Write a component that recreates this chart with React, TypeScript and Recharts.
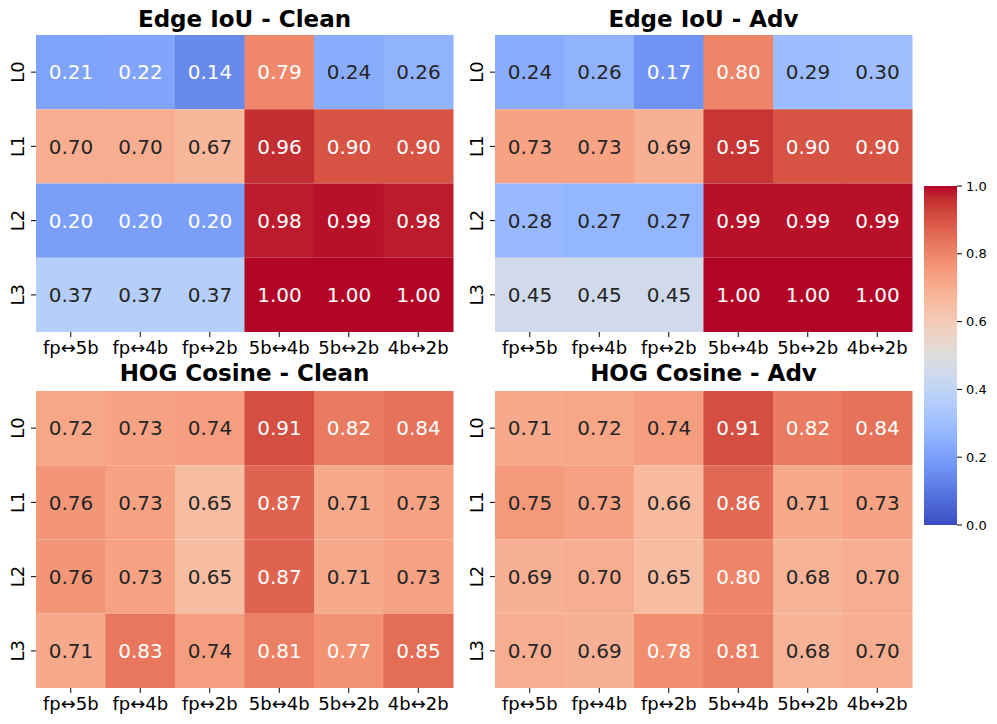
import React from "react";
import { BarChart, Bar, XAxis, YAxis, Cell, LabelList } from "recharts";

const COLS = ["fp↔5b", "fp↔4b", "fp↔2b", "5b↔4b", "5b↔2b", "4b↔2b"];
const ROWS = ["L0", "L1", "L2", "L3"];

const edgeClean = [
  [0.21, 0.22, 0.14, 0.79, 0.24, 0.26],
  [0.7, 0.7, 0.67, 0.96, 0.9, 0.9],
  [0.2, 0.2, 0.2, 0.98, 0.99, 0.98],
  [0.37, 0.37, 0.37, 1.0, 1.0, 1.0],
];
const edgeAdv = [
  [0.24, 0.26, 0.17, 0.8, 0.29, 0.3],
  [0.73, 0.73, 0.69, 0.95, 0.9, 0.9],
  [0.28, 0.27, 0.27, 0.99, 0.99, 0.99],
  [0.45, 0.45, 0.45, 1.0, 1.0, 1.0],
];
const hogClean = [
  [0.72, 0.73, 0.74, 0.91, 0.82, 0.84],
  [0.76, 0.73, 0.65, 0.87, 0.71, 0.73],
  [0.76, 0.73, 0.65, 0.87, 0.71, 0.73],
  [0.71, 0.83, 0.74, 0.81, 0.77, 0.85],
];
const hogAdv = [
  [0.71, 0.72, 0.74, 0.91, 0.82, 0.84],
  [0.75, 0.73, 0.66, 0.86, 0.71, 0.73],
  [0.69, 0.7, 0.65, 0.8, 0.68, 0.7],
  [0.7, 0.69, 0.78, 0.81, 0.68, 0.7],
];
const CBAR_TICKS = [0, 0.2, 0.4, 0.6, 0.8, 1.0];

// Moreland's coolwarm, 33 samples (same as matplotlib's "coolwarm")
const COOLWARM = [
  [59, 76, 192], [68, 90, 204], [77, 104, 215], [87, 117, 225], [98, 130, 234],
  [108, 142, 241], [119, 154, 247], [130, 165, 251], [141, 176, 254], [152, 185, 255],
  [163, 194, 255], [174, 201, 253], [184, 208, 249], [194, 213, 244], [204, 217, 238],
  [213, 219, 230], [221, 221, 221], [229, 216, 209], [236, 211, 197], [241, 204, 185],
  [245, 196, 173], [247, 187, 160], [247, 177, 148], [247, 166, 135], [244, 154, 123],
  [241, 141, 111], [236, 127, 99], [229, 112, 88], [222, 96, 77], [213, 80, 66],
  [203, 62, 56], [192, 40, 47], [180, 4, 38],
];

function rgbAt(t: number) {
  const p = Math.min(Math.max(t, 0), 1) * (COOLWARM.length - 1);
  const i = Math.min(Math.floor(p), COOLWARM.length - 2);
  const f = p - i;
  return COOLWARM[i].map((a, k) => Math.round(a + (COOLWARM[i + 1][k] - a) * f));
}
const coolwarm = (t: number) => {
  const [r, g, b] = rgbAt(t);
  return `rgb(${r},${g},${b})`;
};
// seaborn picks dark/white annotation text from the cell's luminance
function textColor(t: number) {
  const lin = rgbAt(t).map((c) => {
    const s = c / 255;
    return s <= 0.03928 ? s / 12.92 : Math.pow((s + 0.055) / 1.055, 2.4);
  });
  const lum = 0.2126 * lin[0] + 0.7152 * lin[1] + 0.0722 * lin[2];
  return lum > 0.408 ? "#262626" : "#ffffff";
}

const FONT = "'DejaVu Sans', sans-serif";

const RowTick = (props: any) => {
  const { x, y, payload } = props;
  return (
    <text transform={`translate(${x - 5.5},${y}) rotate(-90)`} textAnchor="middle" fontSize={18} fill="#000">
      {ROWS[Math.floor(payload.value)]}
    </text>
  );
};

const CellLabel = (props: any) => {
  const { x, y, width, height, value } = props;
  return (
    <text
      x={x + width / 2}
      y={y + height / 2}
      dy="0.36em"
      textAnchor="middle"
      fontSize={20}
      fill={textColor(value)}
    >
      {Number(value).toFixed(2)}
    </text>
  );
};

function Heatmap({ values, title, left, top }: { values: number[][]; title: string; left: number; top: number }) {
  const data = COLS.map((col, c) => {
    const o: any = { col };
    ROWS.forEach((_, r) => {
      o[`r${r}`] = 1;
      o[`v${r}`] = values[r][c];
    });
    return o;
  });
  return (
    <div style={{ position: "absolute", left, top, width: 460, height: 370 }}>
      <div
        style={{
          position: "absolute",
          left: 36,
          width: 417,
          top: title.startsWith("HOG") ? 6 : 8,
          textAlign: "center",
          fontSize: 23,
          lineHeight: "23px",
          fontWeight: "bold",
          color: "#000",
        }}
      >
        {title}
      </div>
      <BarChart
        width={460}
        height={370}
        data={data}
        margin={{ top: 35, right: 7, left: 0, bottom: 0 }}
        barCategoryGap={0}
        barGap={0}
      >
        <XAxis
          dataKey="col"
          height={38}
          interval={0}
          tickSize={5}
          tickMargin={4}
          axisLine={false}
          tick={{ fill: "#000", fontSize: 18 }}
          tickLine={{ stroke: "#000" }}
        />
        <YAxis
          type="number"
          domain={[0, 4]}
          ticks={[0.5, 1.5, 2.5, 3.5]}
          reversed
          width={36}
          axisLine={false}
          tickSize={5}
          tickMargin={2}
          tick={<RowTick />}
          tickLine={{ stroke: "#000" }}
        />
        {ROWS.map((_, r) => (
          <Bar key={r} dataKey={`r${r}`} stackId="s" isAnimationActive={false}>
            {data.map((_d, c) => (
              <Cell key={c} fill={coolwarm(values[r][c])} />
            ))}
            <LabelList dataKey={`v${r}`} content={<CellLabel />} />
          </Bar>
        ))}
      </BarChart>
    </div>
  );
}

function Colorbar() {
  return (
    <div style={{ position: "absolute", left: 924, top: 176 }}>
      <BarChart
        width={73}
        height={359}
        data={[{ name: "cbar", v: 1 }]}
        margin={{ top: 10, right: 0, left: 0, bottom: 10 }}
        barCategoryGap={0}
      >
        <XAxis dataKey="name" hide />
        <YAxis
          orientation="right"
          type="number"
          domain={[0, 1]}
          ticks={CBAR_TICKS}
          tickFormatter={(v: number) => v.toFixed(1)}
          width={40}
          axisLine={false}
          tickSize={5}
          tickMargin={4}
          tick={{ fill: "#000", fontSize: 13 }}
          tickLine={{ stroke: "#000" }}
        />
        <Bar dataKey="v" fill="url(#coolwarmGrad)" isAnimationActive={false} />
      </BarChart>
    </div>
  );
}

export default function App() {
  return (
    <div
      style={{
        position: "absolute",
        left: 0,
        top: 0,
        width: 997,
        height: 724,
        background: "#fff",
        fontFamily: FONT,
      }}
    >
      <svg width={0} height={0} style={{ position: "absolute" }}>
        <defs>
          <linearGradient id="coolwarmGrad" x1="0" y1="1" x2="0" y2="0">
            {COOLWARM.map((c, i) => (
              <stop key={i} offset={i / (COOLWARM.length - 1)} stopColor={`rgb(${c.join(",")})`} />
            ))}
          </linearGradient>
        </defs>
      </svg>
      <Heatmap values={edgeClean} title="Edge IoU - Clean" left={0} top={0} />
      <Heatmap values={edgeAdv} title="Edge IoU - Adv" left={459} top={0} />
      <Heatmap values={hogClean} title="HOG Cosine - Clean" left={0} top={356} />
      <Heatmap values={hogAdv} title="HOG Cosine - Adv" left={459} top={356} />
      <Colorbar />
    </div>
  );
}
